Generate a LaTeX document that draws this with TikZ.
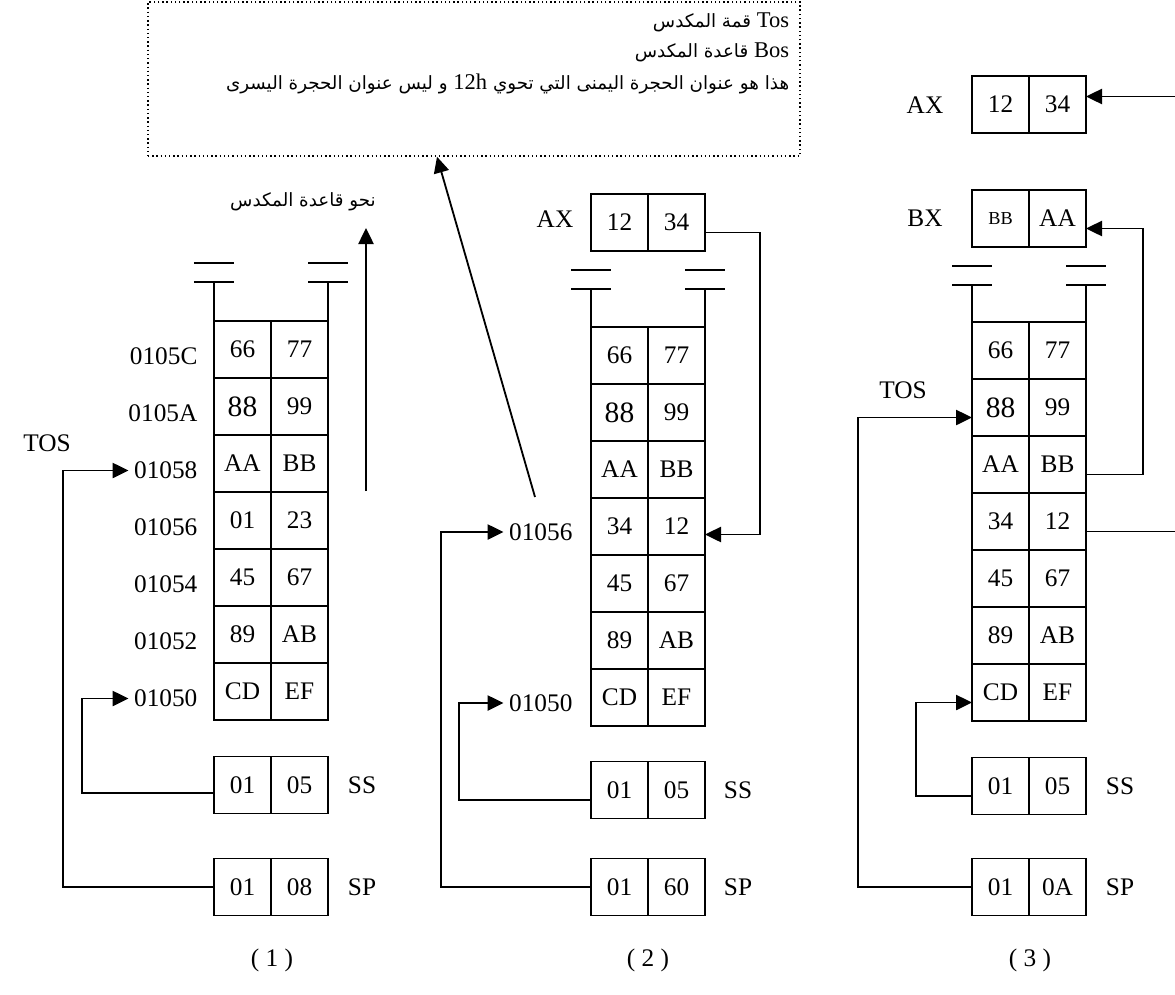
\documentclass[tikz,border=0pt]{standalone}
\usepackage{fontspec}
\setmainfont{Liberation Serif}
\newfontfamily\arabicfont[Script=Arabic]{DejaVu Sans}
\TeXXeTstate=1
\usetikzlibrary{arrows.meta,positioning}
\newcommand\bigeight{{\fontsize{21}{21}\selectfont 88}}
\newcommand\smallbb{{\fontsize{13}{13}\selectfont BB}}

\begin{document}
\begin{tikzpicture}[x=0.025cm, y=-0.025cm, line width=1.3pt,
  cell/.style={draw, minimum size=1.425cm, inner sep=0pt, outer sep=0pt,
               font=\fontsize{18}{20}\selectfont},
  addr/.style={anchor=east, font=\fontsize{18}{20}\selectfont},
  lbl/.style={font=\fontsize{18}{20}\selectfont},
  arabic/.style={inner sep=0pt, font=\fontsize{13}{15}\selectfont\arabicfont},
  note/.style={draw, dotted, line width=1pt, minimum width=16.3cm,
               minimum height=3.85cm, inner sep=0pt},
  arr/.style={-{Triangle[length=4mm,width=3.8mm]}}]
  \useasboundingbox (0,0) rectangle (1175,994);

  % note box
  \node[note] (note) at (474,79) {};
  \node[arabic, anchor=east] (tosln) at (790,22)
    {\beginR\beginL{\rmfamily\fontsize{16}{16}\selectfont Tos}\endL{} قمة المكدس\endR};
  \node[arabic, anchor=east] (bosln) at (790,52)
    {\beginR\beginL{\rmfamily\fontsize{16}{16}\selectfont Bos}\endL{} قاعدة المكدس\endR};
  \node[arabic, anchor=east] (adrln) at (790,84)
    {\beginR هذا هو عنوان الحجرة اليمنى التي تحوي \beginL{\rmfamily\fontsize{16}{16}\selectfont 12h}\endL{} و ليس عنوان الحجرة اليسرى\endR};

  % stack (1)
  \foreach \ca/\cb [count=\i] in {66/77, \bigeight/99, AA/BB, 01/23, 45/67, 89/AB, CD/EF} {
    \node[cell] (s1l\i) at (242.5,292.5+57*\i) {\ca};
    \node[cell] (s1r\i) at (299.5,292.5+57*\i) {\cb};
  }
  \foreach \ad [count=\i] in {0105C,0105A,01058,01056,01054,01052,01050}
    \node[addr] (a1\i) at (203,299.5+57*\i) {\ad};
  \draw (s1l1.north west) -- ++(0,-39) ++(-20,0) -- ++(40,0) ++(-40,-19) -- ++(40,0);
  \draw (s1r1.north east) -- ++(0,-39) ++(-20,0) -- ++(40,0) ++(-40,-19) -- ++(40,0);
  \node[arabic] (tobos) at (303,202) {\beginR نحو قاعدة المكدس\endR};
  \coordinate (dir1) at (366,491);
  \draw[arr] (dir1) -- ++(0,-263);

  \node[cell] (ss1l) at (242.5,785) {01};
  \node[cell] (ss1r) at (299.5,785) {05};
  \node[lbl] (ss1) at (362,785) {SS};
  \node[cell] (sp1l) at (242.5,887) {01};
  \node[cell] (sp1r) at (299.5,887) {08};
  \node[lbl] (sp1) at (362,887) {SP};
  \node[lbl] (tos1) at (47,443) {TOS};

  \draw[arr] (sp1l.west) -- ++(-151,0) |- (a13.west);
  \draw[arr] ([yshift=-0.2cm]ss1l.west) -- ++(-132,0) |- (a17.west);

  % stack (2)
  \foreach \ca/\cb [count=\i] in {66/77, \bigeight/99, AA/BB, 34/12, 45/67, 89/AB, CD/EF} {
    \node[cell] (s2l\i) at (619.5,298.5+57*\i) {\ca};
    \node[cell] (s2r\i) at (676.5,298.5+57*\i) {\cb};
  }
  \draw (s2l1.north west) -- ++(0,-38) ++(-20,0) -- ++(40,0) ++(-40,-19) -- ++(40,0);
  \draw (s2r1.north east) -- ++(0,-38) ++(-20,0) -- ++(40,0) ++(-40,-19) -- ++(40,0);
  \node[addr] (a24) at (578,532) {01056};
  \node[addr] (a27) at (578,703) {01050};

  \node[cell] (ax2l) at (619.5,222.5) {12};
  \node[cell] (ax2r) at (676.5,222.5) {34};
  \node[lbl] (ax2) at (555,219) {AX};
  \node[cell] (ss2l) at (619.5,790) {01};
  \node[cell] (ss2r) at (676.5,790) {05};
  \node[lbl] (ss2) at (738,790) {SS};
  \node[cell] (sp2l) at (619.5,887) {01};
  \node[cell] (sp2r) at (676.5,887) {60};
  \node[lbl] (sp2) at (738,887) {SP};

  \draw[arr] (sp2l.west) -- ++(-150,0) |- (a24.west);
  \draw[arr] ([yshift=-0.25cm]ss2l.west) -- ++(-132,0) |- (a27.west);
  \draw[arr] ([yshift=-0.25cm]ax2r.east) -- ++(55,0) |- ([yshift=-0.2cm]s2r4.east);
  \coordinate (ptr) at (535,497);
  \draw[arr] (ptr) -- ([xshift=-0.925cm]note.south);

  % stack (3)
  \foreach \ca/\cb [count=\i] in {66/77, \bigeight/99, AA/BB, 34/12, 45/67, 89/AB, CD/EF} {
    \node[cell] (s3l\i) at (1000.5,293.5+57*\i) {\ca};
    \node[cell] (s3r\i) at (1057.5,293.5+57*\i) {\cb};
  }
  \draw (s3l1.north west) -- ++(0,-37) ++(-20,0) -- ++(40,0) ++(-40,-19) -- ++(40,0);
  \draw (s3r1.north east) -- ++(0,-37) ++(-20,0) -- ++(40,0) ++(-40,-19) -- ++(40,0);

  \node[cell] (ax3l) at (1000.5,104.5) {12};
  \node[cell] (ax3r) at (1057.5,104.5) {34};
  \node[lbl] (ax3) at (925,105) {AX};
  \node[cell] (bx3l) at (1000.5,218.5) {\smallbb};
  \node[cell] (bx3r) at (1057.5,218.5) {AA};
  \node[lbl] (bx3) at (925,218) {BX};
  \node[cell] (ss3l) at (1000.5,786) {01};
  \node[cell] (ss3r) at (1057.5,786) {05};
  \node[lbl] (ss3) at (1120,786) {SS};
  \node[cell] (sp3l) at (1000.5,887) {01};
  \node[cell] (sp3r) at (1057.5,887) {0A};
  \node[lbl] (sp3) at (1120,887) {SP};
  \node[lbl] (tos3) at (903,390) {TOS};

  \draw[arr] (sp3l.west) -- ++(-114,0) |- ([yshift=-0.25cm]s3l2.west);
  \draw[arr] ([yshift=-0.25cm]ss3l.west) -- ++(-56,0) |- ([yshift=-0.25cm]s3l7.west);
  \draw[arr] ([yshift=-0.25cm]s3r3.east) -- ++(57,0) |- ([yshift=-0.25cm]bx3r.east);
  \draw[arr] ([yshift=-0.25cm]s3r4.east) -- ++(94,0) |- ([yshift=0.2cm]ax3r.east);

  % captions
  \node[lbl] (cap1) at (272,960) {( 1 )};
  \node[lbl] (cap2) at (648,960) {( 2 )};
  \node[lbl] (cap3) at (1030,960) {( 3 )};
\end{tikzpicture}
\end{document}
